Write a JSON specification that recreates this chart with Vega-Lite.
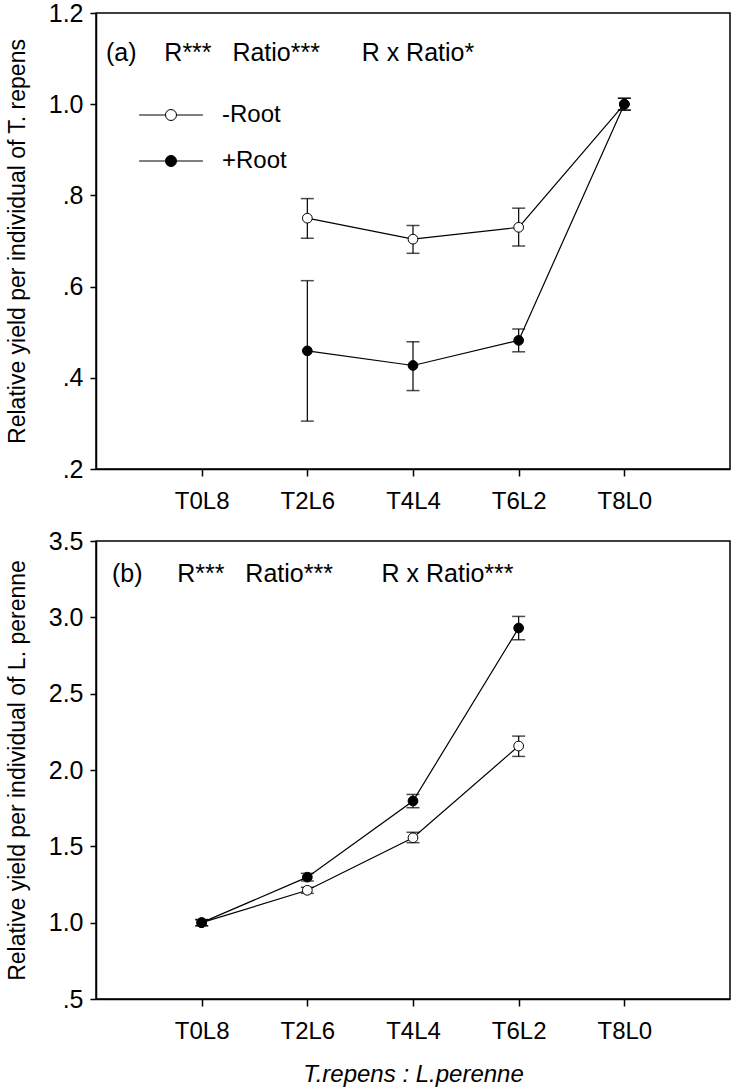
{
  "$schema": "https://vega.github.io/schema/vega-lite/v6.json",
  "background": "white",
  "padding": {"left": 5, "top": 0, "right": 0, "bottom": 0},
  "datasets": {
    "a": [
      {"group": "-Root", "ratio": "T2L6", "y": 0.750, "lo": 0.706, "hi": 0.793},
      {"group": "-Root", "ratio": "T4L4", "y": 0.704, "lo": 0.673, "hi": 0.734},
      {"group": "-Root", "ratio": "T6L2", "y": 0.730, "lo": 0.689, "hi": 0.772},
      {"group": "-Root", "ratio": "T8L0", "y": 1.000, "lo": 0.987, "hi": 1.013},
      {"group": "+Root", "ratio": "T2L6", "y": 0.459, "lo": 0.305, "hi": 0.613},
      {"group": "+Root", "ratio": "T4L4", "y": 0.427, "lo": 0.372, "hi": 0.479},
      {"group": "+Root", "ratio": "T6L2", "y": 0.482, "lo": 0.457, "hi": 0.507},
      {"group": "+Root", "ratio": "T8L0", "y": 1.000, "lo": 0.987, "hi": 1.013}
    ],
    "b": [
      {"group": "-Root", "ratio": "T0L8", "y": 1.000, "lo": 0.980, "hi": 1.020},
      {"group": "-Root", "ratio": "T2L6", "y": 1.212, "lo": 1.192, "hi": 1.232},
      {"group": "-Root", "ratio": "T4L4", "y": 1.556, "lo": 1.524, "hi": 1.592},
      {"group": "-Root", "ratio": "T6L2", "y": 2.157, "lo": 2.089, "hi": 2.222},
      {"group": "+Root", "ratio": "T0L8", "y": 1.000, "lo": 0.980, "hi": 1.020},
      {"group": "+Root", "ratio": "T2L6", "y": 1.298, "lo": 1.273, "hi": 1.323},
      {"group": "+Root", "ratio": "T4L4", "y": 1.797, "lo": 1.753, "hi": 1.840},
      {"group": "+Root", "ratio": "T6L2", "y": 2.930, "lo": 2.853, "hi": 3.006}
    ]
  },
  "config": {
    "font": "Liberation Sans",
    "view": {"stroke": "black", "strokeWidth": 1.5},
    "axis": {
      "domainColor": "black", "domainWidth": 1.5, "tickColor": "black", "tickWidth": 1.5,
      "labelColor": "black", "titleColor": "black", "grid": false,
      "labelFont": "Liberation Sans", "titleFont": "Liberation Sans", "titleFontWeight": "normal"
    }
  },
  "vconcat": [
    {
      "width": 634, "height": 456,
      "data": {"name": "a"},
      "title": {"text": "(a)\u00a0\u00a0\u00a0\u00a0R***\u00a0\u00a0\u00a0Ratio***\u00a0\u00a0\u00a0\u00a0\u00a0\u00a0R x Ratio*", "anchor": "start", "frame": "group", "orient": "top", "offset": -85, "baseline": "alphabetic", "fontSize": 25, "fontWeight": "normal", "dx": 10, "color": "black"},
      "encoding": {
        "x": {"field": "ratio", "type": "ordinal", "scale": {"type": "point", "domain": ["T0L8", "T2L6", "T4L4", "T6L2", "T8L0"], "padding": 1},
              "axis": {"title": null, "labelAngle": 0, "labelFontSize": 24, "tickSize": 7, "labelPadding": 13}}
      },
      "layer": [
        {"mark": {"type": "line", "color": "black", "strokeWidth": 1.2},
         "encoding": {
           "y": {"field": "y", "type": "quantitative", "title": "Relative yield per individual of T. repens",
                 "scale": {"domain": [0.2, 1.2], "nice": false, "zero": false},
                 "axis": {"values": [0.2, 0.4, 0.6, 0.8, 1.0, 1.2], "labelExpr": "datum.value < 0.99 ? replace(format(datum.value, '.1f'), '0.', '.') : format(datum.value, '.1f')", "labelFontSize": 25, "tickSize": 6, "labelPadding": 7, "titleFontSize": 23, "titlePadding": 19}},
           "detail": {"field": "group"}}},
        {"mark": {"type": "rule", "color": "black", "strokeWidth": 1.2},
         "encoding": {"y": {"field": "lo", "type": "quantitative", "title": "Relative yield per individual of T. repens"}, "y2": {"field": "hi"}, "detail": {"field": "group"}}},
        {"mark": {"type": "tick", "color": "black", "size": 13, "thickness": 1.5},
         "encoding": {"y": {"field": "lo", "type": "quantitative", "title": "Relative yield per individual of T. repens"}}},
        {"mark": {"type": "tick", "color": "black", "size": 13, "thickness": 1.5},
         "encoding": {"y": {"field": "hi", "type": "quantitative", "title": "Relative yield per individual of T. repens"}}},
        {"mark": {"type": "point", "shape": "circle", "filled": true, "size": 95, "stroke": "black", "strokeWidth": 1, "opacity": 1},
         "encoding": {
           "y": {"field": "y", "type": "quantitative", "title": "Relative yield per individual of T. repens"},
           "fill": {"field": "group", "type": "nominal", "scale": {"domain": ["-Root", "+Root"], "range": ["white", "black"]},
                    "legend": {"title": null, "orient": "none", "legendX": 63, "legendY": 90, "labelFontSize": 24, "labelColor": "black",
                               "symbolType": "M-5.8,0H-1M1,0H5.8M-1,0A1,1 0 1,1 1,0A1,1 0 1,1 -1,0Z", "symbolSize": 121,
                               "symbolStrokeColor": "black", "symbolStrokeWidth": 1, "rowPadding": 22, "labelOffset": 39}}}}
      ]
    },
    {
      "width": 634, "height": 458,
      "data": {"name": "b"},
      "title": {"text": "(b)\u00a0\u00a0\u00a0\u00a0\u00a0R***\u00a0\u00a0\u00a0Ratio***\u00a0\u00a0\u00a0\u00a0\u00a0\u00a0\u00a0R x Ratio***", "anchor": "start", "frame": "group", "orient": "top", "offset": -78, "baseline": "alphabetic", "fontSize": 25, "fontWeight": "normal", "dx": 16, "color": "black"},
      "encoding": {
        "x": {"field": "ratio", "type": "ordinal", "scale": {"type": "point", "domain": ["T0L8", "T2L6", "T4L4", "T6L2", "T8L0"], "padding": 1},
              "axis": {"title": "T.repens : L.perenne", "titleFontStyle": "italic", "titleFontSize": 24, "titlePadding": 19, "labelAngle": 0, "labelFontSize": 24, "tickSize": 7, "labelPadding": 13}}
      },
      "layer": [
        {"mark": {"type": "line", "color": "black", "strokeWidth": 1.2},
         "encoding": {
           "y": {"field": "y", "type": "quantitative", "title": "Relative yield per individual of L. perenne",
                 "scale": {"domain": [0.5, 3.5], "nice": false, "zero": false},
                 "axis": {"values": [0.5, 1.0, 1.5, 2.0, 2.5, 3.0, 3.5], "labelExpr": "datum.value < 0.99 ? replace(format(datum.value, '.1f'), '0.', '.') : format(datum.value, '.1f')", "labelFontSize": 25, "tickSize": 6, "labelPadding": 7, "titleFontSize": 23, "titlePadding": 19}},
           "detail": {"field": "group"}}},
        {"mark": {"type": "rule", "color": "black", "strokeWidth": 1.2},
         "encoding": {"y": {"field": "lo", "type": "quantitative", "title": "Relative yield per individual of L. perenne"}, "y2": {"field": "hi"}, "detail": {"field": "group"}}},
        {"mark": {"type": "tick", "color": "black", "size": 13, "thickness": 1.5},
         "encoding": {"y": {"field": "lo", "type": "quantitative", "title": "Relative yield per individual of L. perenne"}}},
        {"mark": {"type": "tick", "color": "black", "size": 13, "thickness": 1.5},
         "encoding": {"y": {"field": "hi", "type": "quantitative", "title": "Relative yield per individual of L. perenne"}}},
        {"mark": {"type": "point", "shape": "circle", "filled": true, "size": 95, "stroke": "black", "strokeWidth": 1, "opacity": 1},
         "encoding": {
           "y": {"field": "y", "type": "quantitative", "title": "Relative yield per individual of L. perenne"},
           "fill": {"field": "group", "type": "nominal", "scale": {"domain": ["-Root", "+Root"], "range": ["white", "black"]}, "legend": null}}}
      ]
    }
  ],
  "spacing": 72,
  "bounds": "flush",
  "resolve": {"scale": {"fill": "independent"}, "legend": {"fill": "independent"}}
}
